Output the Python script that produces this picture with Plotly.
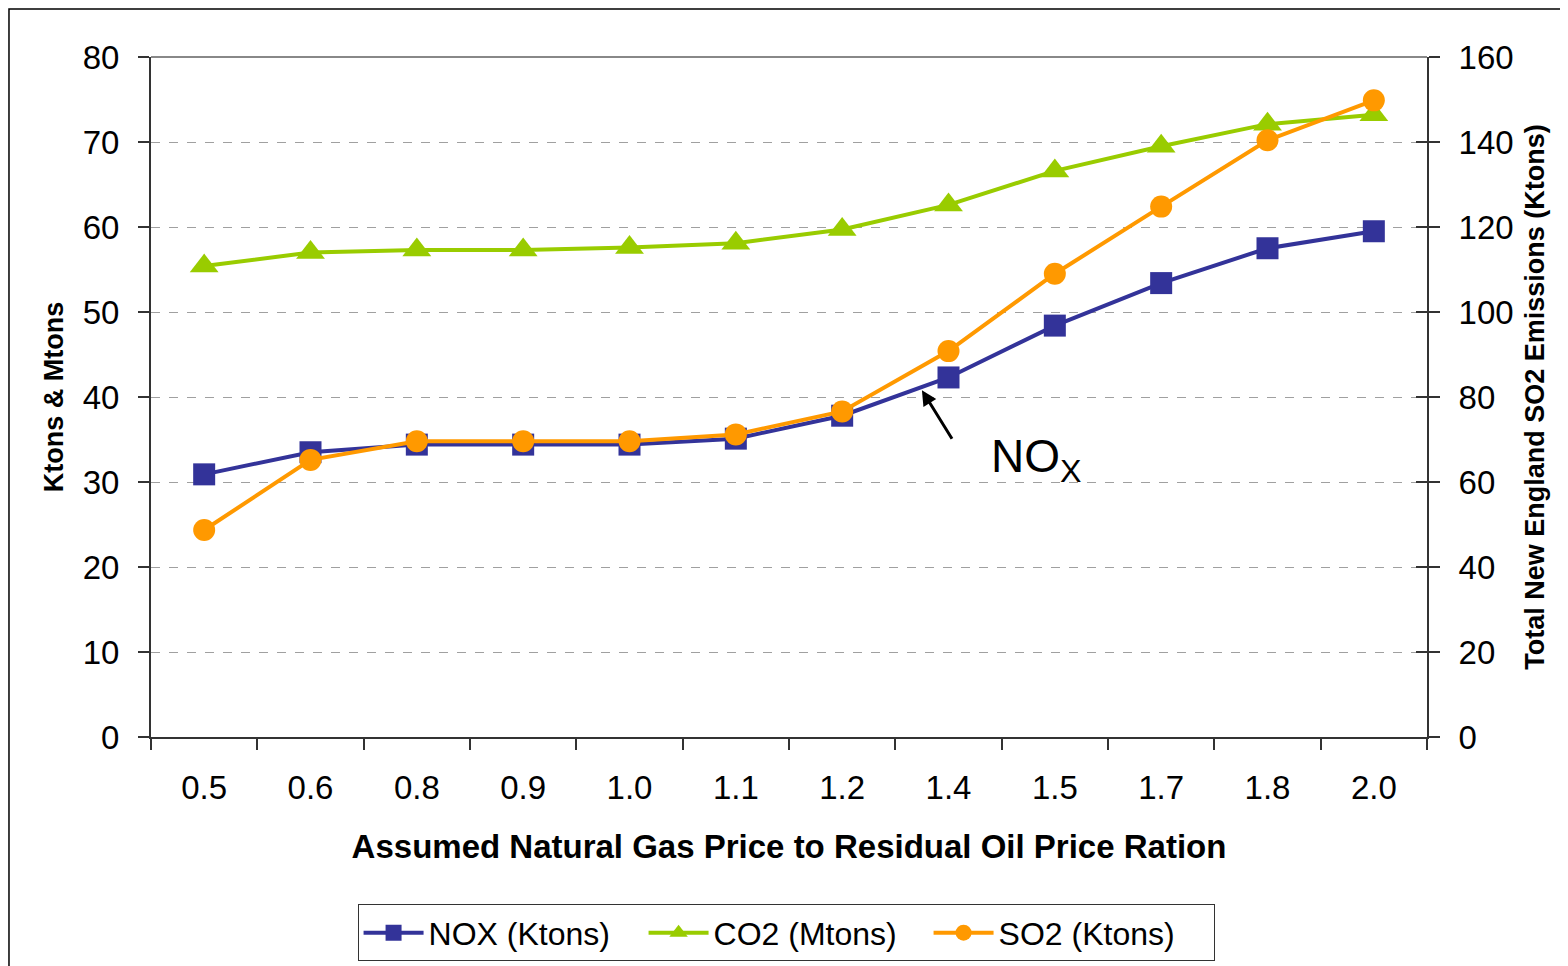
import plotly.graph_objects as go

categories = ["0.5", "0.6", "0.8", "0.9", "1.0", "1.1", "1.2", "1.4", "1.5", "1.7", "1.8", "2.0"]
nox = [30.9, 33.5, 34.4, 34.4, 34.4, 35.1, 37.8, 42.3, 48.4, 53.4, 57.5, 59.5]
co2 = [55.4, 57.0, 57.3, 57.3, 57.6, 58.1, 59.7, 62.6, 66.6, 69.5, 72.1, 73.2]
so2 = [48.7, 65.2, 69.6, 69.6, 69.6, 71.2, 76.6, 90.8, 109.0, 124.8, 140.4, 149.8]

NOX_C = "#333399"
CO2_C = "#99CC00"
SO2_C = "#FF9900"
FONT = "Liberation Sans, Arial, sans-serif"

fig = go.Figure()
fig.add_trace(go.Scatter(x=categories, y=nox, name="NOX (Ktons)", mode="lines+markers",
                         line=dict(color=NOX_C, width=4),
                         marker=dict(symbol="square", size=22, color=NOX_C), yaxis="y"))
fig.add_trace(go.Scatter(x=categories, y=co2, name="CO2 (Mtons)", mode="lines+markers",
                         line=dict(color=CO2_C, width=4),
                         marker=dict(symbol="triangle-up", size=25, color=CO2_C), yaxis="y"))
fig.add_trace(go.Scatter(x=categories, y=so2, name="SO2 (Ktons)", mode="lines+markers",
                         line=dict(color=SO2_C, width=4),
                         marker=dict(symbol="circle", size=22, color=SO2_C), yaxis="y2"))

fig.update_layout(
    width=1568, height=966,
    margin=dict(l=143, r=149, t=49, b=237, autoexpand=False),
    paper_bgcolor="white", plot_bgcolor="white",
    font=dict(family=FONT, color="black", size=33),
    showlegend=True,
    legend=dict(orientation="h", x=0.4977, y=-0.288, xanchor="center", yanchor="middle",
                bordercolor="#333333", borderwidth=1, font=dict(size=32, family=FONT),
                itemwidth=60, entrywidth=210, tracegroupgap=0, bgcolor="white"),
    xaxis=dict(type="category", showline=True, linecolor="#333333", linewidth=2,
               ticks="outside", ticklen=11, tickcolor="#333333", tickwidth=1.5,
               tickson="boundaries", showgrid=False, ticklabelstandoff=20,
               tickfont=dict(size=33), automargin=False,
               title=dict(text="<b>Assumed Natural Gas Price to Residual Oil Price Ration</b>",
                          font=dict(size=33), standoff=30),
               range=[-0.5, 11.5]),
    yaxis=dict(range=[0, 80], dtick=10, showline=True, linecolor="#333333", linewidth=2,
               ticks="outside", ticklen=11, tickcolor="#333333", tickwidth=1.5,
               showgrid=True, gridcolor="#a0a0a0", griddash="dash", gridwidth=1,
               zeroline=False, tickfont=dict(size=33), ticklabelstandoff=12, automargin=False,
               title=dict(text="<b>Ktons &amp; Mtons</b>", font=dict(size=27), standoff=11)),
    yaxis2=dict(range=[0, 160], dtick=20, overlaying="y", side="right",
                showline=True, linecolor="#333333", linewidth=2,
                ticks="outside", ticklen=11, tickcolor="#333333", tickwidth=1.5,
                showgrid=False, zeroline=False, tickfont=dict(size=33), ticklabelstandoff=12,
                automargin=False,
                title=dict(text="<b>Total New England SO2 Emissions (Ktons)</b>",
                           font=dict(size=27), standoff=12)),
    yaxis3=dict(range=[0, 160], dtick=20, overlaying="y", side="right",
                showline=False, ticks="inside", ticklen=11, tickcolor="#333333", tickwidth=1.5,
                showticklabels=False, showgrid=False, zeroline=False, automargin=False),
)

# invisible trace to activate yaxis3 (inner half of crossing ticks)
fig.add_trace(go.Scatter(x=categories, y=so2, yaxis="y3", mode="none",
                         showlegend=False, hoverinfo="skip"))

# top border of plot area
fig.add_shape(type="line", xref="paper", yref="paper", x0=0, x1=1, y0=1, y1=1,
              line=dict(color="#888888", width=2))
# outer chart frame
fig.add_shape(type="rect", xref="paper", yref="paper", x0=-0.1113, x1=1.13, y0=-0.37, y1=1.0705,
              line=dict(color="black", width=1.5), layer="below")

# NOx annotation with arrow
fig.add_annotation(x=6.75, y=40.8, xref="x", yref="y", text="", showarrow=True,
                   arrowhead=2, arrowsize=1, arrowwidth=3, arrowcolor="black",
                   ax=31, ay=50)
fig.add_annotation(x=7.82, y=32.6, xref="x", yref="y", text="NO<sub>X</sub>",
                   showarrow=False, font=dict(size=46, family=FONT, color="black"))

fig.write_html("out.html")
